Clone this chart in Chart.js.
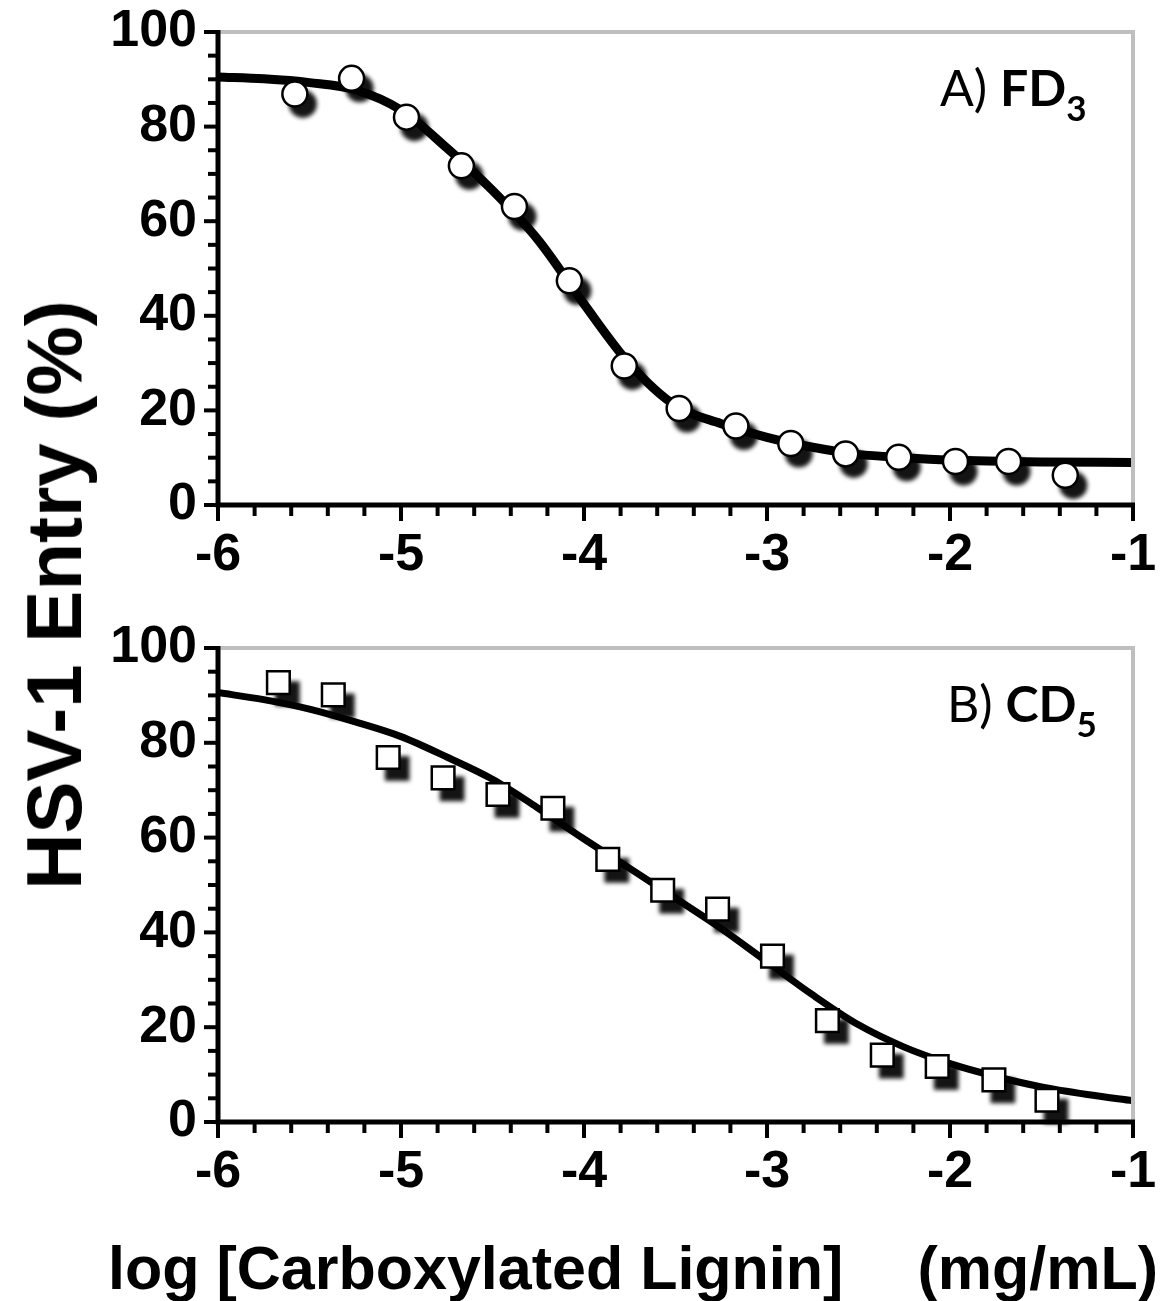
<!DOCTYPE html>
<html>
<head>
<meta charset="utf-8">
<script src="https://cdn.jsdelivr.net/npm/chart.js@4.4.0/dist/chart.umd.min.js"></script>
<style>
    body { margin: 0; background: #fff; width: 1162px; height: 1301px; position: relative; overflow: hidden; font-family: 'Liberation Sans', Arial, sans-serif; }
    .box { position: absolute; left: 0; width: 1162px; }
    #topbox { top: 0; height: 600px; }
    #botbox { top: 600px; height: 701px; }
    .ytitle { position: absolute; left: 54px; top: 595px; transform: translate(-50%, -50%) rotate(-90deg); font-weight: bold; font-size: 78px; line-height: 1; white-space: nowrap; }
    .xtitle { position: absolute; top: 1238px; font-weight: bold; font-size: 61px; line-height: 1; white-space: nowrap; }
    .tag { position: absolute; font-family: Lato, 'Open Sans', sans-serif; font-size: 50px; line-height: 1; white-space: nowrap; }
    .tag b { font-weight: bold; }
    .tag sub { font-size: 35px; vertical-align: -15px; font-weight: bold; }
</style>
</head>
<body>
<div class="box" id="topbox"><canvas id="fdchart" width="1162" height="600"></canvas></div>
<div class="box" id="botbox"><canvas id="cdchart" width="1162" height="701"></canvas></div>
<div class="ytitle">HSV-1 Entry (%)</div>
<div class="xtitle" style="left:108px">log [Carboxylated Lignin]</div>
<div class="xtitle" style="right:4px">(mg/mL)</div>
<div class="tag" style="left:940px; top:62px">A) <b>FD<sub>3</sub></b></div>
<div class="tag" style="left:947px; top:678px">B) <b>CD<sub>5</sub></b></div>
<script>
// panel A - FD3
var fdLogConc = [-5.58, -5.27, -4.97, -4.67, -4.38, -4.08, -3.78, -3.48, -3.17, -2.87, -2.57, -2.28, -1.97, -1.68, -1.37];
var fdEntry = [86.9, 90.2, 82.0, 71.7, 63.1, 47.4, 29.4, 20.4, 16.7, 13.0, 10.8, 10.1, 9.2, 9.2, 6.3];
var fdFitX = [-6, -5.75, -5.5, -5.25, -5, -4.75, -4.5, -4.25, -4, -3.75, -3.5, -3.25, -3, -2.75, -2.5, -2.25, -2, -1.5, -1];
var fdFitY = [90.5, 90.1, 89.3, 87.8, 83.5, 75.5, 66.5, 56, 42.5, 29.8, 21, 17.2, 14.3, 12.2, 10.7, 10, 9.5, 9.1, 9];

// panel B - CD5
var cdLogConc = [-5.67, -5.37, -5.07, -4.77, -4.47, -4.17, -3.87, -3.57, -3.27, -2.97, -2.67, -2.37, -2.07, -1.76, -1.47];
var cdEntry = [92.7, 90.1, 76.9, 72.6, 69.1, 66.2, 55.4, 48.9, 44.9, 35.0, 21.4, 14.1, 11.7, 8.9, 4.6];
var cdFitX = [-6, -5.75, -5.5, -5.25, -5, -4.75, -4.5, -4.25, -4, -3.75, -3.5, -3.25, -3, -2.75, -2.5, -2.25, -2, -1.75, -1.5, -1.25, -1];
var cdFitY = [90.6, 89.1, 87.1, 84.4, 81.3, 77, 72.3, 66.2, 59.7, 53.5, 47.2, 40.8, 33.8, 26.8, 20.5, 15.8, 12.3, 9.6, 7.4, 5.8, 4.5];

var xTickLabels = ["-6", "-5", "-4", "-3", "-2", "-1"];
var yTickLabels = ["0", "20", "40", "60", "80", "100"];

function pairs(xs, ys) {
    return xs.map(function (x, i) { return { x: x, y: ys[i] }; });
}

function isWhole(v) {
    return Math.abs(v - Math.round(v)) < 1e-6;
}

// drop shadow under the markers, like the excel effect
const markShadow = {
    id: "markShadow",
    beforeDatasetDraw: function (chart, args) {
        var ds = chart.data.datasets[args.index];
        if (!ds.shadow) return;
        var ctx = chart.ctx;
        ctx.save();
        ctx.fillStyle = "rgba(0,0,0,0.92)";
        ctx.filter = "blur(2px)";
        args.meta.data.forEach(function (pt) {
            var r = ds.pointRadius;
            ctx.beginPath();
            if (ds.pointStyle === "rect") {
                var s = r * Math.SQRT1_2 + 1;
                ctx.rect(pt.x + 9 - s, pt.y + 11 - s, 2 * s, 2 * s);
            } else {
                ctx.arc(pt.x + 8, pt.y + 10, r + 1.5, 0, Math.PI * 2);
            }
            ctx.fill();
        });
        ctx.restore();
    },
};

// axis lines, tick marks and the grey frame
const axesLook = {
    id: "axesLook",
    afterDatasetsDraw: function (chart) {
        var ctx = chart.ctx;
        var a = chart.chartArea;
        var xs = chart.scales.x;
        var ys = chart.scales.y;
        ctx.save();
        ctx.strokeStyle = "#bfbfbf";
        ctx.lineWidth = 4;
        ctx.beginPath();
        ctx.moveTo(a.left, a.top);
        ctx.lineTo(a.right, a.top);
        ctx.lineTo(a.right, a.bottom);
        ctx.stroke();

        ctx.strokeStyle = "#000";
        ctx.lineWidth = 4;
        xs.ticks.forEach(function (t) {
            var px = xs.getPixelForValue(t.value);
            ctx.beginPath();
            ctx.moveTo(px, a.bottom);
            ctx.lineTo(px, a.bottom + (isWhole(t.value) ? 16 : 11));
            ctx.stroke();
        });
        ys.ticks.forEach(function (t) {
            var py = ys.getPixelForValue(t.value);
            ctx.beginPath();
            ctx.moveTo(a.left, py);
            ctx.lineTo(a.left - (t.value % 20 === 0 ? 14 : 10), py);
            ctx.stroke();
        });

        ctx.lineWidth = 5;
        ctx.beginPath();
        ctx.moveTo(a.left, a.top - 2);
        ctx.lineTo(a.left, a.bottom);
        ctx.lineTo(a.right + 2, a.bottom);
        ctx.stroke();
        ctx.restore();
    },
};

function noScalePadding(scale) {
    scale.paddingTop = 0;
    scale.paddingBottom = 0;
    scale.paddingLeft = 0;
    scale.paddingRight = 0;
}

function createPanel(canvasId, fitX, fitY, conc, entry, opts) {
    const chartdata = {
        datasets: [
            {
                type: "line",
                data: pairs(fitX, fitY),
                borderColor: "#000",
                borderWidth: opts.lineWidth,
                pointRadius: 0,
                cubicInterpolationMode: "monotone",
                fill: false,
                order: 2,
            },
            {
                type: "scatter",
                data: pairs(conc, entry),
                pointStyle: opts.marker,
                pointRadius: opts.radius,
                pointHoverRadius: opts.radius,
                backgroundColor: "#fff",
                borderColor: "#000",
                borderWidth: 2.5,
                shadow: true,
                clip: false,
                order: 1,
            },
        ],
    };
    const tickFont = { family: "'Liberation Sans', Arial, sans-serif", size: 52, weight: "bold" };
    const config = {
        type: "line",
        data: chartdata,
        options: {
            responsive: false,
            animation: false,
            events: [],
            layout: { padding: { left: 0, right: 29, top: opts.top, bottom: 0 } },
            plugins: {
                legend: { display: false },
                tooltip: { enabled: false },
            },
            scales: {
                x: {
                    type: "linear",
                    min: -6,
                    max: -1,
                    grid: { display: false },
                    border: { display: false },
                    ticks: {
                        stepSize: 0.2,
                        autoSkip: false,
                        maxRotation: 0,
                        padding: 11,
                        color: "#000",
                        font: tickFont,
                        callback: function (value) {
                            if (!isWhole(value)) return "";
                            return xTickLabels[Math.round(value) + 6];
                        },
                    },
                    afterFit: function (scale) {
                        scale.height = opts.axisHeight;
                        noScalePadding(scale);
                    },
                },
                y: {
                    min: 0,
                    max: 100,
                    grid: { display: false },
                    border: { display: false },
                    ticks: {
                        stepSize: 5,
                        autoSkip: false,
                        padding: 13,
                        color: "#000",
                        font: tickFont,
                        callback: function (value) {
                            if (value % 20 !== 0) return "";
                            return yTickLabels[value / 20];
                        },
                    },
                    afterFit: function (scale) {
                        scale.width = 218;
                        noScalePadding(scale);
                    },
                },
            },
        },
        plugins: [markShadow, axesLook],
    };
    return new Chart(document.getElementById(canvasId), config);
}

var fdchart = createPanel("fdchart", fdFitX, fdFitY, fdLogConc, fdEntry,
    { lineWidth: 9, marker: "circle", radius: 12.5, top: 32, axisHeight: 95 });
var cdchart = createPanel("cdchart", cdFitX, cdFitY, cdLogConc, cdEntry,
    { lineWidth: 7, marker: "rect", radius: 16, top: 48, axisHeight: 179 });
</script>
</body>
</html>
